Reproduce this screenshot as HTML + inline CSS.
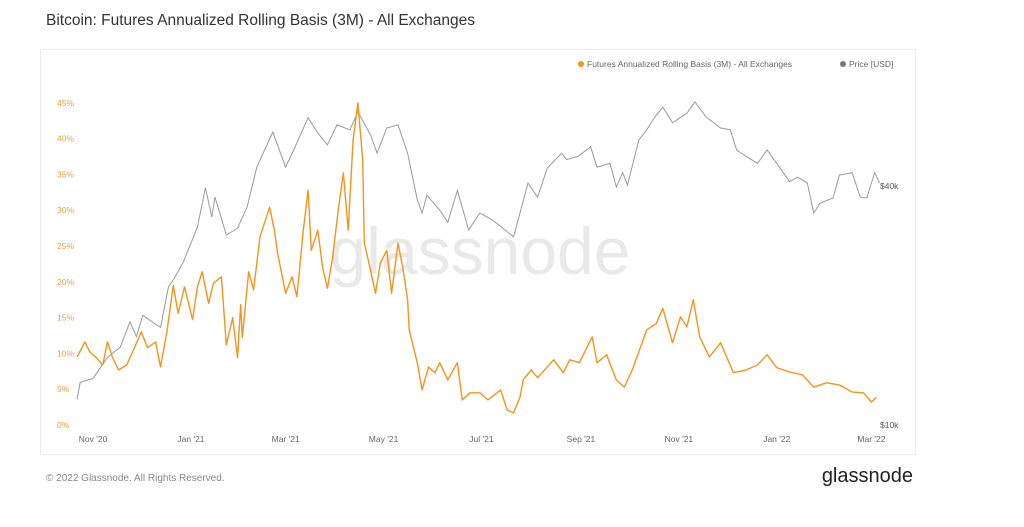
<!DOCTYPE html>
<html><head><meta charset="utf-8"><style>
body{margin:0;background:#fff;width:1024px;height:522px;overflow:hidden;font-family:"Liberation Sans",sans-serif}
</style></head><body>
<svg width="1024" height="522" viewBox="0 0 1024 522" xmlns="http://www.w3.org/2000/svg">
<text x="46" y="25" font-size="15.5" fill="#333" font-weight="500">Bitcoin: Futures Annualized Rolling Basis (3M) - All Exchanges</text>
<rect x="40.5" y="49.5" width="875" height="405" fill="#fff" stroke="#eee"/>
<text x="480" y="274" font-size="66" fill="#e9e9e9" text-anchor="middle">glassnode</text>
<g>
<circle cx="581" cy="64" r="3" fill="#f7931a"/>
<text x="587" y="67" font-size="8.5" fill="#666">Futures Annualized Rolling Basis (3M) - All Exchanges</text>
<circle cx="843" cy="64" r="3" fill="#777"/>
<text x="849" y="67" font-size="8.5" fill="#666">Price [USD]</text>
</g>
<g id="axes"></g>
<g id="series"></g>
<text x="46" y="481" font-size="10" fill="#888">© 2022 Glassnode. All Rights Reserved.</text>
<text x="913" y="482" font-size="20" fill="#222" text-anchor="end">glassnode</text>
</svg>
<script>
const basisDays=[0,5,8,12,16,19,22,26,31,36,40,44,49,52,56,60,63,67,72,75,78,82,85,90,93,97,100,102,103,107,110,114,120,123,125,130,134,137,141,144,146,150,153,156,159,163,166,169,172,175,178,179,181,186,189,193,196,200,203,206,207,212,215,219,223,226,231,237,240,245,251,256,264,268,272,276,278,283,287,297,303,307,313,321,324,330,336,341,346,355,361,365,371,376,380,384,388,394,401,409,417,424,430,436,444,452,459,467,475,483,490,495,498];
const basisValues=[9.5,11.6,10.2,9.4,8.4,11.6,9.5,7.7,8.4,10.9,13,10.8,11.6,8.1,13,19.5,15.6,19.3,14.7,19.3,21.4,17,19.8,20.7,11.2,15,9.4,16.8,12.2,21.4,18.9,26.3,30.4,27.2,24,18.4,20.7,17.9,27.2,32.8,24.4,27.2,22,19.1,23,30.4,35.2,27.2,39.8,45,37,25.4,23.5,18.4,22.6,24.4,18.4,25.4,22,17.5,13.3,8.7,4.9,8.1,7.3,8.7,6.3,8.7,3.5,4.5,4.5,3.5,4.9,2.1,1.7,3.9,6.3,7.7,6.6,9.1,7.3,9.1,8.7,12.3,8.7,9.8,6.3,5.3,7.7,13.3,14.2,16.3,11.5,15.1,13.7,17.5,12.3,9.5,11.5,7.3,7.7,8.4,9.8,8,7.4,7,5.3,5.9,5.6,4.6,4.5,3.2,3.9];
const priceDays=[0,2,10,19,27,33,37,41,52,57,60,66,75,80,84,86,93,100,106,112,122,130,135,144,150,156,162,170,175,183,187,193,200,206,212,215,218,226,231,237,244,251,259,272,281,287,293,302,305,312,320,324,332,336,340,343,350,355,360,365,371,380,385,392,401,407,411,417,424,430,436,444,449,455,459,463,471,475,483,488,492,497,500];
const priceK=[11.6,12.8,13.1,14.8,15.7,18.2,16.7,18.9,17.6,22.3,23.2,25.6,31.5,39.6,33.4,37.5,30.1,31.3,35.4,44.6,54.7,44.6,49.3,59.4,54.4,50.8,57,55.4,61.5,53.7,48.4,56,57,48.4,36.9,34.2,37.9,34.8,32.4,39,31,34.2,32.8,29.8,40.7,37.5,44.4,48.4,46.6,47.5,50.2,44.6,45.6,39.8,43.2,40.2,52.2,55.4,59.7,63.2,57.7,61,65.2,59.7,56,55.4,49.3,47.5,45.6,49.3,45.6,41,42.1,40.7,34.2,36.2,37.3,42.6,43.2,37.5,37.3,43.2,40.7];
const leftTicks=[0,5,10,15,20,25,30,35,40,45];
const rightTicks=[10,40];
const monthLabels=["Nov '20","Jan '21","Mar '21","May '21","Jul '21","Sep '21","Nov '21","Jan '22","Mar '22"];
const monthDays=[10,71,130,191,252,314,375,436,495];

const NS="http://www.w3.org/2000/svg";
const xS=d=>77+d*1.605;
const yL=v=>425-v*7.16;
const yR=k=>425-239*Math.log(k/10)/Math.log(4);
const axes=document.getElementById('axes'),ser=document.getElementById('series');
function mk(tag,attrs,parent){const e=document.createElementNS(NS,tag);for(const k in attrs)e.setAttribute(k,attrs[k]);parent.appendChild(e);return e;}
leftTicks.forEach(v=>{const t=mk('text',{x:57,y:yL(v)+3,'font-size':8.5,fill:'#e8a040'},axes);t.textContent=v+'%';

});
rightTicks.forEach(v=>{const t=mk('text',{x:880,y:yR(v)+3,'font-size':8.5,fill:'#555'},axes);t.textContent='$'+v+'k';

});
monthLabels.forEach((m,i)=>{const t=mk('text',{x:xS(monthDays[i]),y:442,'font-size':8.5,fill:'#666','text-anchor':'middle'},axes);t.textContent=m;

});
const pp=mk('path',{d:priceDays.map((d,i)=>(i?'L':'M')+xS(d).toFixed(1)+','+yR(priceK[i]).toFixed(1)).join(''),fill:'none',stroke:'#9a9a9a','stroke-width':1},ser);


const bp=mk('path',{d:basisDays.map((d,i)=>(i?'L':'M')+xS(d).toFixed(1)+','+yL(basisValues[i]).toFixed(1)).join(''),fill:'none',stroke:'#f7931a','stroke-width':1.4,'stroke-linejoin':'round'},ser);


</script>
</body></html>
